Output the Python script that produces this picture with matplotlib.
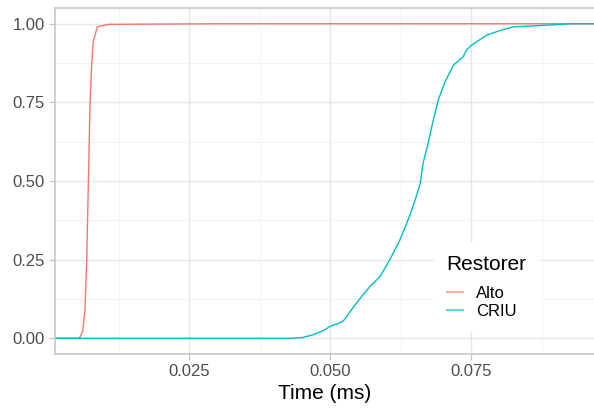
import numpy as np
import matplotlib.pyplot as plt
from matplotlib.ticker import MultipleLocator

plt.rcParams['font.family'] = ['Liberation Sans', 'DejaVu Sans']

# ECDF traces (time in ms, cumulative fraction)
alto_t = [0.00124, 0.00555, 0.00615, 0.00656, 0.00686, 0.00715, 0.00745,
          0.00775, 0.00803, 0.00874, 0.0107, 0.0300, 0.0968]
alto_p = [0.0, 0.0, 0.022, 0.091, 0.25, 0.49, 0.748,
          0.875, 0.943, 0.99, 0.998, 1.0, 1.0]

criu_t = [0.00124, 0.0429, 0.0450, 0.0470, 0.0490, 0.0500, 0.0515, 0.0524,
          0.0536, 0.0556, 0.0571, 0.0589, 0.0606, 0.0624, 0.0642, 0.0651,
          0.0660, 0.0665, 0.0674, 0.0683, 0.0692, 0.0704, 0.0719, 0.0736,
          0.0742, 0.0751, 0.0778, 0.0804, 0.0825, 0.0860, 0.0900, 0.0928,
          0.0968]
criu_p = [0.0, 0.0, 0.002, 0.011, 0.026, 0.038, 0.047, 0.056,
          0.086, 0.133, 0.165, 0.197, 0.25, 0.313, 0.393, 0.44,
          0.493, 0.557, 0.620, 0.694, 0.758, 0.816, 0.869, 0.895,
          0.917, 0.932, 0.964, 0.980, 0.990, 0.993, 0.997, 1.0,
          1.0]

names = ['Alto', 'CRIU']
colors = ['#F8766D', '#00BFC4']

fig = plt.figure(figsize=(5.94, 4.08), dpi=100)
ax = fig.add_axes([55/594, 54/408, 539/594, 346/408])

ax.plot(alto_t, alto_p, color=colors[0], lw=1.0, label=names[0])
ax.plot(criu_t, criu_p, color=colors[1], lw=1.0, label=names[1])

ax.set_xlim(0.00124, 0.0968)
ax.set_ylim(-0.05, 1.05)
ax.xaxis.set_major_locator(MultipleLocator(0.025))
ax.xaxis.set_minor_locator(MultipleLocator(0.0125))
ax.yaxis.set_major_locator(MultipleLocator(0.25))
ax.yaxis.set_minor_locator(MultipleLocator(0.125))
ax.xaxis.set_major_formatter(lambda v, p: f'{v:.3f}')
ax.yaxis.set_major_formatter(lambda v, p: f'{v:.2f}')

ax.grid(which='major', color='#e6e6e6', lw=1.0)
ax.grid(which='minor', color='#f1f1f1', lw=0.6)
ax.set_axisbelow(True)

for s in ['left', 'bottom', 'top']:
    ax.spines[s].set_color('#c4c4c4')
    ax.spines[s].set_linewidth(1.1)
ax.spines['right'].set_visible(False)

ax.tick_params(which='major', length=4.5, width=0.9, color='#c4c4c4',
               labelsize=12, labelcolor='#4d4d4d', pad=3)
ax.tick_params(which='minor', length=0)

ax.set_xlabel('Time (ms)', fontsize=15, labelpad=3)

leg = ax.legend(title='Restorer', loc='upper left',
                bbox_to_anchor=(435/594, 1 - 243/408), bbox_transform=fig.transFigure,
                fontsize=12, title_fontsize=15, frameon=True, handlelength=1.0,
                handletextpad=0.75, labelspacing=0.15, borderpad=0.7,
                borderaxespad=0, fancybox=False, edgecolor='white', framealpha=1.0)
leg._legend_box.align = 'left'
leg._legend_box.sep = 9
for line in leg.get_lines():
    line.set_alpha(0.6)
    line.set_linewidth(1.5)

fig.savefig('out.png', dpi=100)
